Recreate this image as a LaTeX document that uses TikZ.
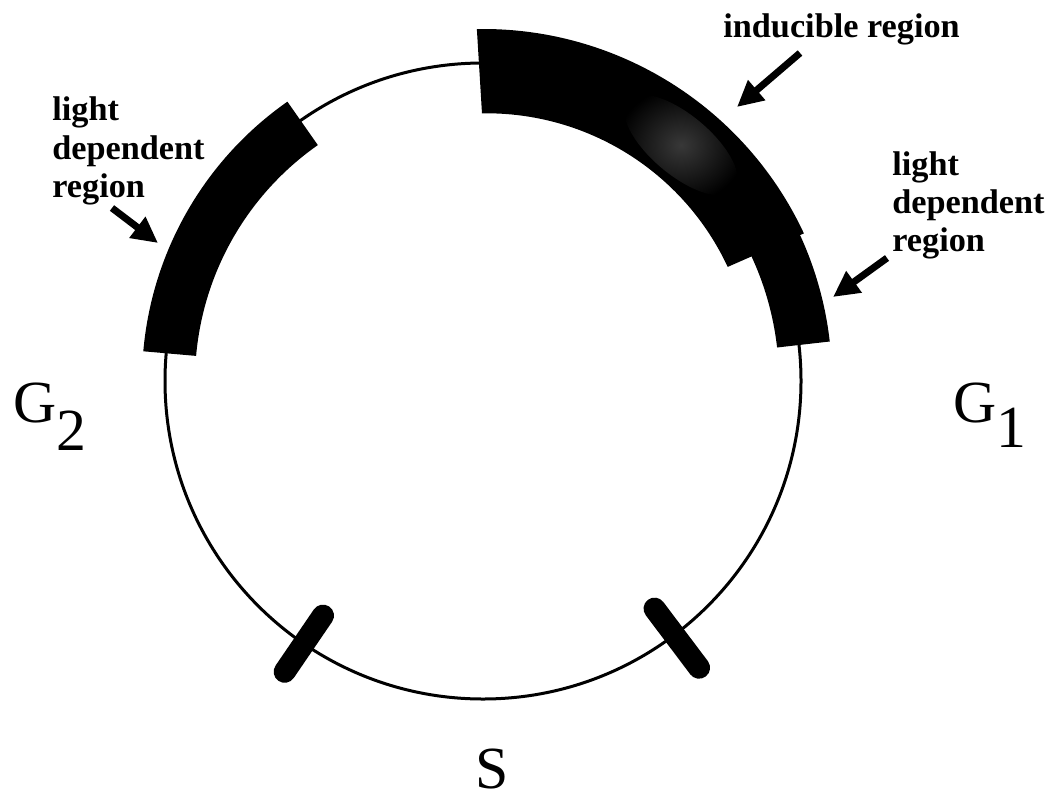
\documentclass[tikz,border=0pt]{standalone}
\usepackage{fontspec}
\setmainfont{Liberation Serif}
\usetikzlibrary{arrows.meta}
\begin{document}
\begin{tikzpicture}[x=0.02cm,y=-0.02cm,
  ring/.style={line width=0.06cm, draw=black},
  band/.style={fill=black},
  tickmark/.style={line width=0.44cm, line cap=round, draw=black},
  pointer/.style={line width=0.14cm, draw=black, -{Triangle[length=0.52cm,width=0.5cm]}},
  lbl/.style={font=\fontsize{19.5}{22}\selectfont\bfseries, anchor=base west, inner sep=0pt},
  phase/.style={font=\fontsize{34}{38}\selectfont, anchor=base west, inner sep=0pt}]
\useasboundingbox (0,0) rectangle (1060,801);
\coordinate (C) at (483,381);
\begin{scope}[shift={(C)}, y=0.02cm]
  \draw[ring] (0,0) circle[radius=318];
  % right light dependent region (under the inducible band)
  \fill[band] (6.5:349) arc[start angle=6.5,end angle=30,radius=349] -- (30:296) arc[start angle=30,end angle=6.5,radius=296] -- cycle;
  % inducible region
  \fill[band] (91:352) arc[start angle=91,end angle=25,radius=354] -- (25:270) arc[start angle=25,end angle=91,radius=266] -- cycle;
  \shade[inner color=black!78, outer color=black, rotate around={-40:(50:308)}] (50:308) ellipse[x radius=70, y radius=30];
  % left light dependent region
  \fill[band] (125:341) arc[start angle=125,end angle=175,radius=341] -- (175:288) arc[start angle=175,end angle=125,radius=288] -- cycle;
  % S phase marks
  \draw[tickmark] (235.7:284) -- (235.7:352);
  \draw[tickmark] (307:285) -- (307:359);
\end{scope}

% labels
\node[lbl] (ind) at (723,37) {inducible region};
\node[lbl] (l1) at (52,120) {light};
\node[lbl] (l2) at (52,159) {dependent};
\node[lbl] (l3) at (52,197) {region};
\node[lbl] (r1) at (892,175) {light};
\node[lbl] (r2) at (892,213) {dependent};
\node[lbl] (r3) at (892,251) {region};

\node[phase] (G2) at (13,422) {G\raisebox{-0.56cm}{2}};
\node[phase] (G1) at (953,422) {G\raisebox{-0.5cm}{1}};
\node[phase, anchor=base] (S) at (492,788) {S};

% pointers
\coordinate (ia) at (800,53);  \coordinate (ib) at (737,107);
\coordinate (ra) at (887,258); \coordinate (rb) at (833,297);
\coordinate (la) at (112,208); \coordinate (lb) at (158,243);
\draw[pointer] (ia) -- (ib);
\draw[pointer] (ra) -- (rb);
\draw[pointer] (la) -- (lb);
\end{tikzpicture}
\end{document}
